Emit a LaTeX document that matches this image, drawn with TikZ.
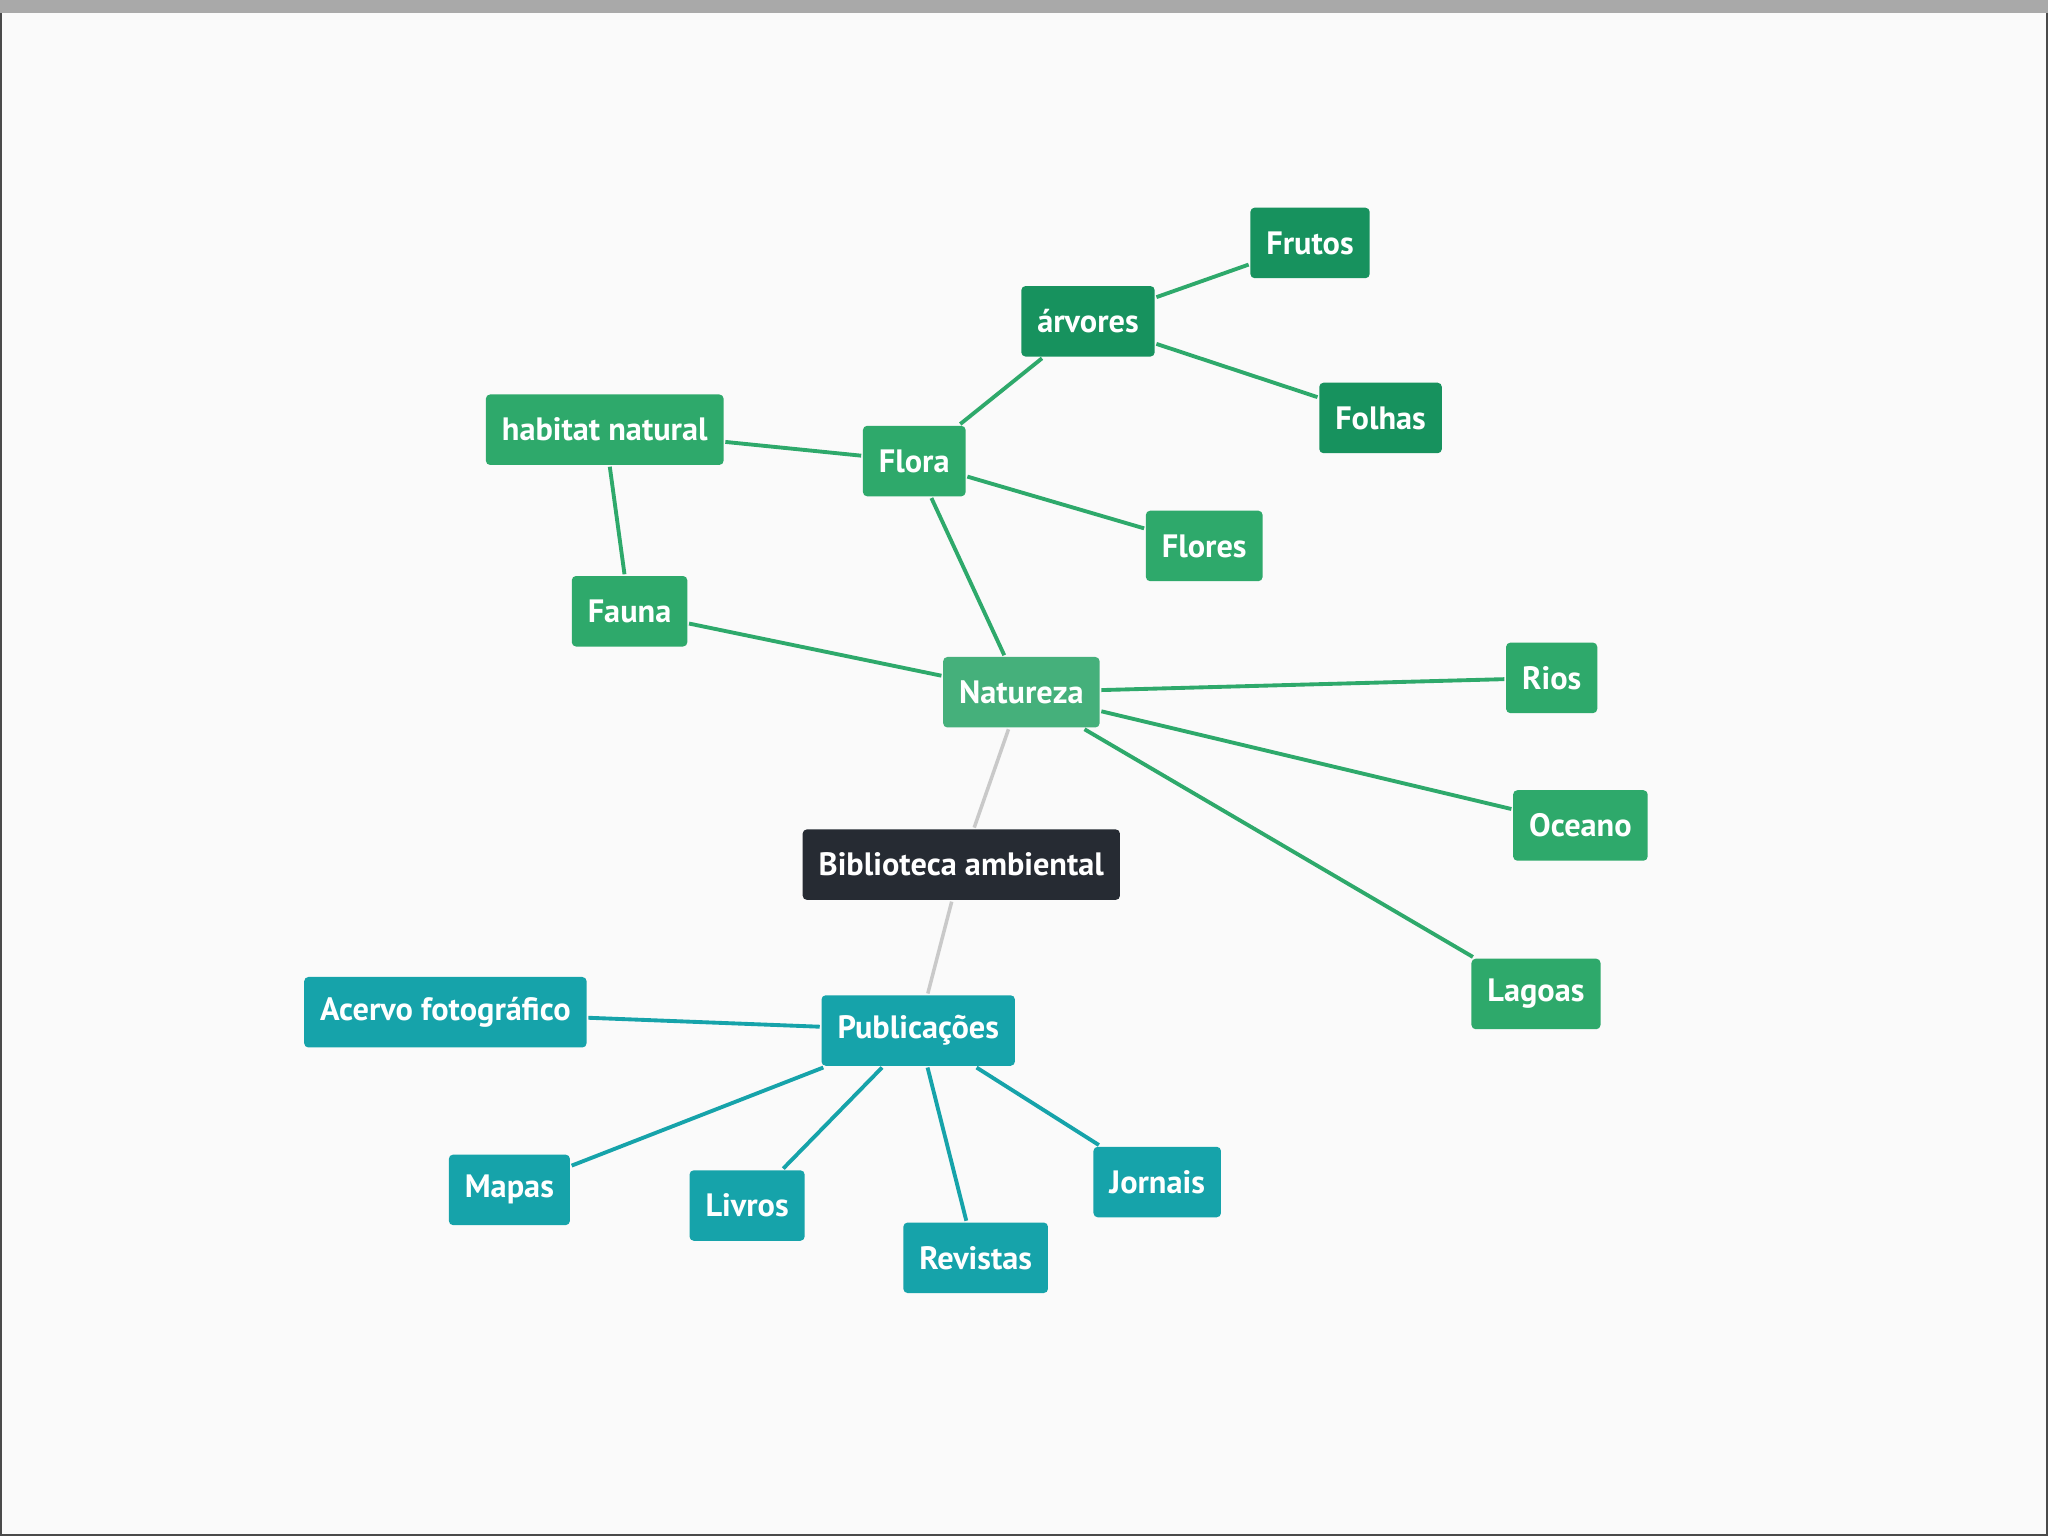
\documentclass[tikz,border=0pt]{standalone}
\usepackage{fontspec}
\setmainfont{PT Sans}
\usetikzlibrary{arrows.meta}

\definecolor{fundo}{HTML}{FAFAFA}
\definecolor{barra}{HTML}{A9A9A9}
\definecolor{moldura}{HTML}{4A4A4A}
\definecolor{verde}{HTML}{2EA96B}
\definecolor{verdeclaro}{HTML}{45B07B}
\definecolor{verdeescuro}{HTML}{17925E}
\definecolor{azul}{HTML}{16A3AA}
\definecolor{escuro}{HTML}{262B33}
\definecolor{cinza}{HTML}{C9C9C9}

\begin{document}
\begin{tikzpicture}[x=0.013061cm,y=-0.013061cm,line width=1pt,
  caixa/.style={rounded corners=1.2pt,text=white,font=\bfseries\fontsize{9.2}{11}\selectfont,
    minimum height=0.705cm,inner xsep=0.16cm},
  ramo/.style={caixa,fill=verde},
  folha/.style={caixa,fill=verdeescuro},
  pub/.style={caixa,fill=azul},
  liga/.style={verde,line width=1.1pt},
  ligapub/.style={azul,line width=1.1pt}]
  \useasboundingbox (0,0) rectangle (1568,1176);
  \fill[fundo] (0,0) rectangle (1568,1176);
  \fill[barra] (0,0) rectangle (1568,10);
  \draw[moldura,line width=0.6pt] (0.5,10)--(0.5,1175.5)--(1567,1175.5)--(1567,10);
  % centro
  \node[caixa,fill=escuro] (bib) at (736,662){Biblioteca ambiental};
  % natureza
  \node[caixa,fill=verdeclaro] (nat) at (782,530){Natureza};
  \node[ramo] (flora) at (700,353){Flora};
  \node[ramo] (fauna) at (482,468){Fauna};
  \node[ramo] (habitat) at (463,329){habitat natural};
  \node[ramo] (flores) at (922,418){Flores};
  \node[folha] (arvores) at (833,246){árvores};
  \node[folha] (frutos) at (1003,186){Frutos};
  \node[folha] (folhas) at (1057,320){Folhas};
  \node[ramo] (rios) at (1188,519){Rios};
  \node[ramo] (oceano) at (1210,632){Oceano};
  \node[ramo] (lagoas) at (1176,761){Lagoas};
  % publicacoes
  \node[pub] (publ) at (703,789){Publicações};
  \node[pub] (acervo) at (341,775){Acervo fotográfico};
  \node[pub] (mapas) at (390,911){Mapas};
  \node[pub] (livros) at (572,923){Livros};
  \node[pub] (revistas) at (747,963){Revistas};
  \node[pub] (jornais) at (886,905){Jornais};
  % ligacoes
  \draw[cinza] (nat)--(bib); \draw[cinza] (bib)--(publ);
  \foreach \a/\b in {nat/flora,nat/fauna,nat/rios,nat/oceano,nat/lagoas,flora/habitat,
    flora/flores,flora/arvores,habitat/fauna,arvores/frutos,arvores/folhas}
    \draw[liga] (\a)--(\b);
  \foreach \b in {acervo,mapas,livros,revistas,jornais}
    \draw[ligapub] (publ)--(\b);
\end{tikzpicture}
\end{document}
